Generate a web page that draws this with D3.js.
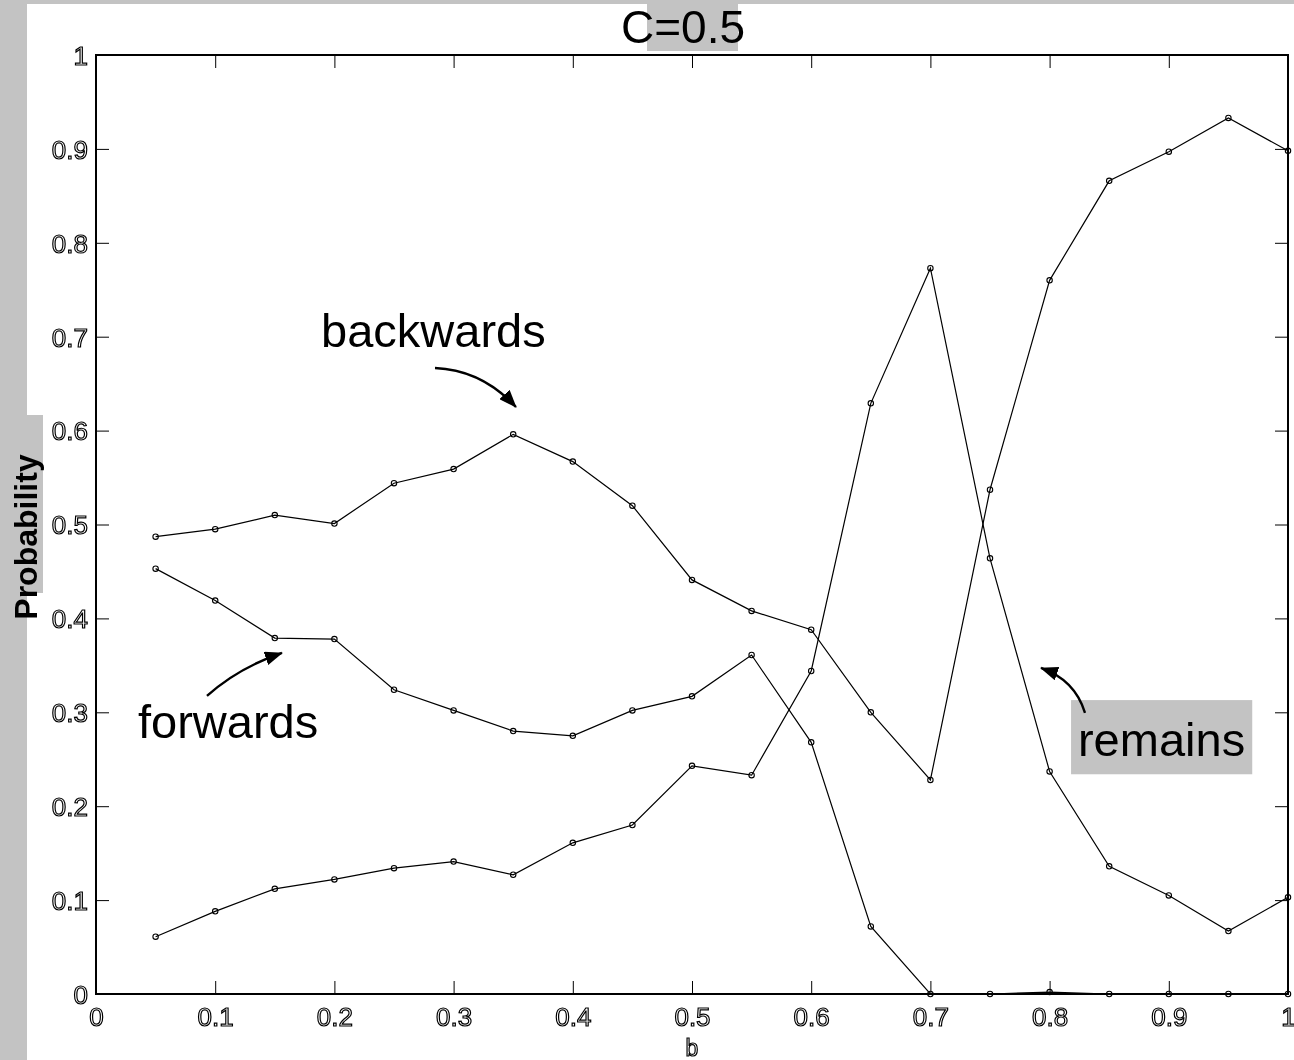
<!DOCTYPE html>
<html>
<head>
<meta charset="utf-8">
<script src="https://cdn.jsdelivr.net/npm/d3@7"></script>
<style>
  html, body { margin: 0; padding: 0; background: #fff; }
  svg { display: block; will-change: transform; }
  .tick-label { font-family: "Liberation Sans", Arial, sans-serif; font-size: 26px; fill: #fff; stroke: #000; stroke-width: 1.2px; }
</style>
</head>
<body>
<svg id="chart" width="1294" height="1060"></svg>
<script>
// b values along the horizontal axis
const bValues = [0.05, 0.10, 0.15, 0.20, 0.25, 0.30, 0.35, 0.40, 0.45, 0.50,
                 0.55, 0.60, 0.65, 0.70, 0.75, 0.80, 0.85, 0.90, 0.95, 1.00];

// probability curves
const seriesA = [0.487, 0.495, 0.510, 0.501, 0.544, 0.559, 0.596, 0.567, 0.520, 0.441,
                 0.408, 0.388, 0.300, 0.228, 0.537, 0.760, 0.866, 0.897, 0.933, 0.898];
const seriesB = [0.453, 0.419, 0.379, 0.378, 0.324, 0.302, 0.280, 0.275, 0.302, 0.317,
                 0.361, 0.268, 0.072, 0.000, 0.000, 0.002, 0.000, 0.000, 0.000, 0.000];
const seriesC = [0.061, 0.088, 0.112, 0.122, 0.134, 0.141, 0.127, 0.161, 0.180, 0.243,
                 0.233, 0.344, 0.629, 0.773, 0.464, 0.237, 0.136, 0.105, 0.067, 0.103];

const xTicks = [0, 0.1, 0.2, 0.3, 0.4, 0.5, 0.6, 0.7, 0.8, 0.9, 1];
const yTicks = [0, 0.1, 0.2, 0.3, 0.4, 0.5, 0.6, 0.7, 0.8, 0.9, 1];

const titleText = "C=0.5";
const xLabel = "b";
const yLabel = "Probability";

const annotationNames = ["backwards", "forwards", "remains"];

const svg = d3.select("#chart");
const W = 1294, H = 1060;
const plot = { left: 96, right: 1288, top: 55, bottom: 994 };

const x = d3.scaleLinear().domain([0, 1]).range([plot.left, plot.right]);
const y = d3.scaleLinear().domain([0, 1]).range([plot.bottom, plot.top]);

// page background with grey margins
svg.append("rect").attr("width", W).attr("height", H).attr("fill", "#fff");
svg.append("rect").attr("x", 0).attr("y", 0).attr("width", 27).attr("height", H).attr("fill", "#c3c3c3");
svg.append("rect").attr("x", 0).attr("y", 0).attr("width", W).attr("height", 4).attr("fill", "#c3c3c3");
svg.append("rect").attr("x", 27).attr("y", 415).attr("width", 16).attr("height", 178).attr("fill", "#c3c3c3");

// arrow head
svg.append("defs").append("marker")
  .attr("id", "head")
  .attr("markerUnits", "userSpaceOnUse")
  .attr("viewBox", "0 -7 18 14")
  .attr("refX", 17).attr("refY", 0)
  .attr("markerWidth", 18).attr("markerHeight", 14)
  .attr("orient", "auto")
  .append("path").attr("d", "M0,-7L18,0L0,7Z").attr("fill", "#000");

// axes: ticks pointing inward on all four sides
const fmt = d => d === 0 ? "0" : d === 1 ? "1" : d3.format(".1f")(d);

const gx = svg.append("g").attr("transform", `translate(0,${plot.bottom})`)
  .call(d3.axisBottom(x).tickValues(xTicks).tickFormat(fmt).tickSizeInner(-13).tickSizeOuter(0).tickPadding(18));
const gy = svg.append("g").attr("transform", `translate(${plot.left},0)`)
  .call(d3.axisLeft(y).tickValues(yTicks).tickFormat(fmt).tickSizeInner(-13).tickSizeOuter(0).tickPadding(8));
const gt = svg.append("g").attr("transform", `translate(0,${plot.top})`)
  .call(d3.axisTop(x).tickValues(xTicks).tickFormat("").tickSizeInner(-13).tickSizeOuter(0));
const gr = svg.append("g").attr("transform", `translate(${plot.right},0)`)
  .call(d3.axisRight(y).tickValues(yTicks).tickFormat("").tickSizeInner(-13).tickSizeOuter(0));

[gx, gy, gt, gr].forEach(g => {
  g.select(".domain").remove();
  g.selectAll(".tick line").attr("stroke", "#000").attr("stroke-width", 1);
});
gx.selectAll(".tick text").attr("class", "tick-label").attr("font-size", null).attr("font-family", null)
  .attr("dy", "0.55em");
gy.selectAll(".tick text").attr("class", "tick-label").attr("font-size", null).attr("font-family", null)
  .attr("dy", "0.36em");

// frame
svg.append("rect")
  .attr("x", plot.left).attr("y", plot.top)
  .attr("width", plot.right - plot.left).attr("height", plot.bottom - plot.top)
  .attr("fill", "none").attr("stroke", "#000").attr("stroke-width", 2);

// curves with open circle markers
const line = d3.line().x(d => x(d[0])).y(d => y(d[1]));
[seriesA, seriesB, seriesC].forEach(vals => {
  const pts = bValues.map((b, i) => [b, vals[i]]);
  svg.append("path").datum(pts).attr("d", line)
    .attr("fill", "none").attr("stroke", "#000").attr("stroke-width", 1.2);
  svg.append("g").selectAll("circle").data(pts).join("circle")
    .attr("cx", d => x(d[0])).attr("cy", d => y(d[1])).attr("r", 2.7)
    .attr("fill", "none").attr("stroke", "#000").attr("stroke-width", 1.1);
});

// title with grey highlight
svg.append("rect").attr("x", 647).attr("y", 0).attr("width", 91).attr("height", 51).attr("fill", "#c3c3c3");
svg.append("text").attr("x", 683).attr("y", 43).attr("text-anchor", "middle")
  .attr("font-family", "'Liberation Sans', Arial, sans-serif").attr("font-size", 46)
  .attr("fill", "#000").text(titleText);

// axis labels
svg.append("text").attr("x", x(0.5)).attr("y", 1056).attr("text-anchor", "middle")
  .attr("class", "tick-label").style("font-size", "23px").text(xLabel);
svg.append("text").attr("transform", "translate(37,537) rotate(-90)").attr("text-anchor", "middle")
  .attr("font-family", "'Liberation Sans', Arial, sans-serif").attr("font-weight", "bold")
  .attr("font-size", 32).attr("fill", "#000").text(yLabel);

// annotations: label position, curved arrow (start, control, tip) in data units
const notes = [
  { text: annotationNames[0], at: [0.1888, 0.689], arrow: [[0.2844, 0.6667], [0.3238, 0.6645], [0.3523, 0.6251]] },
  { text: annotationNames[1], at: [0.0352, 0.2726], arrow: [[0.0931, 0.3174], [0.1191, 0.3472], [0.1560, 0.3632]] },
  { text: annotationNames[2], at: [0.8238, 0.2535], arrow: [[0.8297, 0.2993], [0.8213, 0.3344], [0.7928, 0.3472]],
    box: [0.818, 0.313, 0.970, 0.234] }
];
notes.forEach(n => {
  if (n.box) {
    svg.append("rect")
      .attr("x", x(n.box[0])).attr("y", y(n.box[1]))
      .attr("width", x(n.box[2]) - x(n.box[0])).attr("height", y(n.box[3]) - y(n.box[1]))
      .attr("fill", "#c3c3c3");
  }
  svg.append("text").attr("x", x(n.at[0])).attr("y", y(n.at[1]))
    .attr("font-family", "'Liberation Sans', Arial, sans-serif").attr("font-size", 47)
    .attr("fill", "#000").text(n.text);
  const [s, c, t] = n.arrow;
  const p = d3.path();
  p.moveTo(x(s[0]), y(s[1]));
  p.quadraticCurveTo(x(c[0]), y(c[1]), x(t[0]), y(t[1]));
  svg.append("path").attr("d", p.toString())
    .attr("fill", "none").attr("stroke", "#000").attr("stroke-width", 2.4)
    .attr("marker-end", "url(#head)");
});
</script>
</body>
</html>
